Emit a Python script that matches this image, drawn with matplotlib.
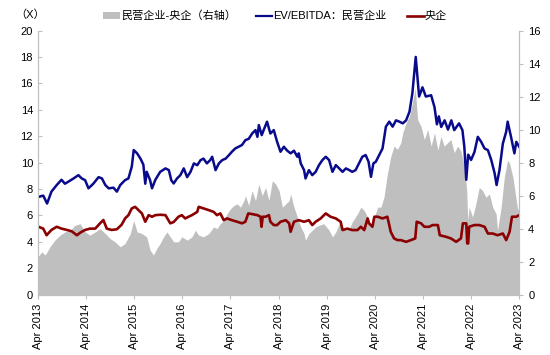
import matplotlib
matplotlib.use("Agg")
import matplotlib.pyplot as plt
from matplotlib.patches import Patch
from matplotlib.lines import Line2D

plt.rcParams['font.family'] = ['Liberation Sans', 'Noto Sans CJK SC']
plt.rcParams['axes.unicode_minus'] = False

# decimal-year positions (2013.25 = Apr 2013) and values
private_t = [2013.26, 2013.36, 2013.44, 2013.53, 2013.64, 2013.74, 2013.81, 2013.88, 2013.99,
             2014.09, 2014.16, 2014.23, 2014.30, 2014.40, 2014.51, 2014.58, 2014.65, 2014.72,
             2014.82, 2014.89, 2014.96, 2015.06, 2015.13, 2015.20, 2015.24, 2015.31, 2015.38,
             2015.44, 2015.48, 2015.51, 2015.58, 2015.62, 2015.69, 2015.79, 2015.90, 2015.97,
             2016.02, 2016.07, 2016.14, 2016.21, 2016.28, 2016.35, 2016.42, 2016.49, 2016.56,
             2016.63, 2016.69, 2016.76, 2016.83, 2016.87, 2016.94, 2017.01, 2017.08, 2017.15,
             2017.22, 2017.28, 2017.35, 2017.42, 2017.49, 2017.56, 2017.63, 2017.70, 2017.77,
             2017.81, 2017.84, 2017.90, 2017.94, 2018.01, 2018.08, 2018.15, 2018.22, 2018.29,
             2018.36, 2018.43, 2018.50, 2018.57, 2018.64, 2018.67, 2018.71, 2018.78, 2018.81,
             2018.88, 2018.95, 2019.02, 2019.09, 2019.16, 2019.23, 2019.30, 2019.37, 2019.44,
             2019.51, 2019.58, 2019.65, 2019.72, 2019.78, 2019.85, 2019.92, 2019.99, 2020.06,
             2020.12, 2020.17, 2020.22, 2020.27, 2020.34, 2020.41, 2020.48, 2020.55, 2020.62,
             2020.69, 2020.76, 2020.83, 2020.90, 2020.97, 2021.03, 2021.10, 2021.17, 2021.24,
             2021.31, 2021.42, 2021.49, 2021.54, 2021.58, 2021.63, 2021.70, 2021.77, 2021.84,
             2021.90, 2022.00, 2022.07, 2022.11, 2022.15, 2022.19, 2022.25, 2022.32, 2022.39,
             2022.46, 2022.53, 2022.60, 2022.67, 2022.74, 2022.78, 2022.84, 2022.91, 2022.98,
             2023.01, 2023.08, 2023.15, 2023.19, 2023.25]
private_v = [7.4, 7.5, 6.9, 7.8, 8.3, 8.7, 8.4, 8.55, 8.8,
             9.05, 8.8, 8.67, 8.05, 8.4, 8.9, 8.8, 8.3, 8.05,
             8.1, 7.8, 8.3, 8.67, 8.8, 9.7, 10.95, 10.7, 10.3,
             9.85, 8.4, 9.3, 8.67, 8.05, 8.7, 9.3, 9.56, 9.43,
             8.67, 8.42, 8.8, 9.05, 9.56, 8.9, 9.3, 9.94, 9.8,
             10.19, 10.3, 9.94, 10.19, 10.44, 9.43, 9.94, 10.19, 10.3,
             10.57, 10.82, 11.07, 11.2, 11.33, 11.7, 11.8, 12.2, 12.46,
             11.95, 12.84, 12.08, 12.46, 13.1, 12.2, 12.46, 11.57, 10.82,
             11.2, 10.9, 10.7, 10.9, 10.44, 10.7, 9.94, 9.43, 8.8,
             9.43, 9.05, 9.3, 9.81, 10.19, 10.44, 10.19, 9.3, 9.81,
             9.56, 9.3, 9.56, 9.43, 9.3, 9.43, 9.94, 10.44, 10.57,
             10.06, 8.92, 9.94, 10.06, 10.57, 11.07, 12.72, 13.1, 12.72,
             13.2, 13.1, 12.97, 13.2, 13.85, 15.24, 18.0, 15.0, 15.7,
             15.0, 15.1, 14.2, 12.9, 13.5, 12.7, 13.2, 12.5, 13.2,
             12.46, 12.97, 12.46, 11.2, 8.7, 10.6, 10.2, 10.8, 11.95,
             11.57, 11.07, 10.94, 10.19, 9.18, 8.3, 9.43, 11.44, 12.34,
             13.1, 11.95, 10.7, 11.57, 11.2]

soe_t = [2013.26, 2013.36, 2013.43, 2013.53, 2013.64, 2013.74, 2013.85, 2013.95, 2014.06,
         2014.13, 2014.23, 2014.33, 2014.44, 2014.54, 2014.61, 2014.68, 2014.78, 2014.89,
         2014.99, 2015.06, 2015.13, 2015.20, 2015.27, 2015.34, 2015.41, 2015.48, 2015.55,
         2015.62, 2015.69, 2015.79, 2015.90, 2016.00, 2016.07, 2016.17, 2016.24, 2016.31,
         2016.38, 2016.45, 2016.56, 2016.59, 2016.69, 2016.80, 2016.90, 2016.97, 2017.04,
         2017.11, 2017.18, 2017.28, 2017.39, 2017.49, 2017.56, 2017.62, 2017.70, 2017.81,
         2017.875, 2017.896, 2017.92, 2017.98, 2018.05, 2018.08, 2018.15, 2018.22, 2018.29,
         2018.40, 2018.47, 2018.50, 2018.57, 2018.67, 2018.78, 2018.88, 2018.95, 2019.02,
         2019.125, 2019.23, 2019.33, 2019.44, 2019.54, 2019.58, 2019.68, 2019.78, 2019.89,
         2019.96, 2020.03, 2020.10, 2020.13, 2020.20, 2020.24, 2020.31, 2020.41, 2020.51,
         2020.55, 2020.58, 2020.65, 2020.72, 2020.79, 2020.90, 2021.00, 2021.09, 2021.12,
         2021.21, 2021.28, 2021.38, 2021.45, 2021.56, 2021.60, 2021.73, 2021.83, 2021.94,
         2022.04, 2022.08, 2022.15, 2022.17, 2022.19, 2022.21, 2022.32, 2022.42, 2022.53,
         2022.60, 2022.70, 2022.80, 2022.91, 2022.98, 2023.05, 2023.10, 2023.19, 2023.25]
soe_v = [5.14, 5.0, 4.5, 4.9, 5.14, 5.0, 4.9, 4.8, 4.5,
         4.7, 4.9, 5.0, 5.0, 5.4, 5.65, 5.0, 4.9, 4.95,
         5.3, 5.77, 6.02, 6.53, 6.65, 6.4, 6.15, 5.52, 6.02,
         5.9, 6.02, 6.05, 6.02, 5.4, 5.5, 5.9, 6.02, 5.77,
         5.9, 6.02, 6.27, 6.65, 6.53, 6.4, 6.27, 6.02, 6.15,
         5.64, 5.77, 5.64, 5.52, 5.4, 5.52, 6.15, 6.1, 6.02,
         5.9, 5.14, 5.9, 5.9, 6.02, 5.52, 5.27, 5.27, 5.52,
         5.64, 5.4, 4.76, 5.52, 5.64, 5.52, 5.64, 5.27, 5.52,
         5.77, 6.15, 5.9, 5.77, 5.52, 4.89, 5.0, 4.89, 4.89,
         5.14, 4.89, 5.77, 5.4, 5.14, 5.9, 5.9, 5.77, 5.9,
         5.27, 4.76, 4.26, 4.13, 4.13, 4.0, 4.13, 4.26, 5.52,
         5.4, 5.14, 5.14, 5.27, 5.27, 4.5, 4.38, 4.26, 4.0,
         4.26, 5.4, 5.4, 3.88, 3.88, 5.14, 5.27, 5.27, 5.14,
         4.63, 4.63, 4.5, 4.63, 4.13, 4.76, 5.9, 5.9, 6.02]

spread_t = [2013.25, 2013.33, 2013.40, 2013.50, 2013.60, 2013.71, 2013.81, 2013.92, 2014.02,
            2014.125, 2014.23, 2014.33, 2014.44, 2014.54, 2014.65, 2014.75, 2014.85, 2014.96,
            2015.06, 2015.17, 2015.24, 2015.31, 2015.41, 2015.51, 2015.58, 2015.65, 2015.72,
            2015.79, 2015.86, 2015.93, 2016.00, 2016.07, 2016.17, 2016.24, 2016.35, 2016.45,
            2016.52, 2016.59, 2016.69, 2016.80, 2016.90, 2016.97, 2017.04, 2017.11, 2017.18,
            2017.25, 2017.32, 2017.39, 2017.46, 2017.53, 2017.56, 2017.63, 2017.70, 2017.77,
            2017.84, 2017.91, 2017.98, 2018.05, 2018.12, 2018.19, 2018.26, 2018.33, 2018.40,
            2018.47, 2018.50, 2018.57, 2018.64, 2018.71, 2018.78, 2018.81, 2018.88, 2018.95,
            2019.02, 2019.09, 2019.19, 2019.30, 2019.37, 2019.44, 2019.51, 2019.58, 2019.65,
            2019.72, 2019.78, 2019.89, 2019.96, 2020.03, 2020.10, 2020.17, 2020.24, 2020.31,
            2020.375, 2020.44, 2020.51, 2020.58, 2020.65, 2020.72, 2020.79, 2020.83, 2020.90,
            2020.97, 2021.03, 2021.09, 2021.14, 2021.21, 2021.28, 2021.35, 2021.42, 2021.49,
            2021.56, 2021.625, 2021.69, 2021.76, 2021.83, 2021.90, 2021.97, 2022.04, 2022.11,
            2022.16, 2022.18, 2022.21, 2022.28, 2022.35, 2022.42, 2022.49, 2022.56, 2022.63,
            2022.70, 2022.77, 2022.80, 2022.875, 2022.94, 2023.01, 2023.05, 2023.12, 2023.19,
            2023.22, 2023.25]
spread_v = [2.29, 2.59, 2.4, 2.9, 3.3, 3.6, 3.8, 3.9, 4.2,
            4.3, 3.8, 3.6, 3.8, 4.0, 3.7, 3.4, 3.2, 2.9,
            3.1, 3.7, 4.5, 3.8, 3.7, 3.5, 2.7, 2.4, 2.8,
            3.1, 3.5, 3.8, 3.5, 3.2, 3.2, 3.5, 3.3, 3.5,
            3.9, 3.6, 3.5, 3.7, 4.1, 4.0, 4.3, 4.5, 4.9,
            5.2, 5.4, 5.5, 5.3, 5.7, 6.0, 5.4, 6.3, 5.7,
            6.7, 6.0, 6.5, 5.7, 6.9, 6.7, 6.3, 5.3, 5.5,
            5.7, 6.1, 5.3, 4.7, 4.1, 3.7, 3.3, 3.7, 3.9,
            4.1, 4.2, 4.3, 3.9, 3.5, 3.8, 4.3, 4.1, 3.9,
            4.0, 4.4, 4.9, 5.3, 5.1, 4.7, 4.2, 4.7, 5.3,
            5.3, 5.9, 7.3, 8.35, 9.0, 8.8, 9.2, 9.8, 10.4,
            10.8, 11.6, 12.5, 10.6, 10.2, 9.4, 10.0, 9.0, 9.8,
            8.75, 9.6, 9.0, 9.2, 9.4, 8.6, 9.0, 8.7, 7.75,
            6.3, 4.5, 5.3, 4.7, 5.5, 6.5, 6.3, 5.9, 6.1,
            5.3, 4.9, 3.9, 5.3, 7.1, 8.15, 7.95, 7.1, 5.7,
            5.1, 5.5]

tick_years = list(range(2013, 2024))
tick_labels = [f"Apr {y}" for y in tick_years]

BLUE = '#0A0A8C'
RED = '#8B0000'
GRAY = '#BFBFBF'

fig = plt.figure(figsize=(5.5, 3.55), dpi=100)
ax = fig.add_axes([0.069, 0.170, 0.875, 0.744])
ax2 = ax.twinx()

# gray spread area on right axis, kept behind the lines
ax2.fill_between(spread_t, 0, spread_v, color=GRAY, lw=0)
ax.set_zorder(ax2.get_zorder() + 1)
ax.patch.set_visible(False)

ax.plot(private_t, private_v, color=BLUE, lw=1.8)
ax.plot(soe_t, soe_v, color=RED, lw=1.9)

ax.set_xlim(2013.25, 2023.25)
ax.set_ylim(0, 20)
ax2.set_ylim(0, 16)
ax.set_yticks(range(0, 21, 2))
ax2.set_yticks(range(0, 17, 2))
ax.set_xticks([y + 0.25 for y in tick_years])
ax.set_xticklabels(tick_labels, rotation=90)

for a in (ax, ax2):
    a.spines['top'].set_visible(False)
    for s in ('left', 'right', 'bottom'):
        a.spines[s].set_color(GRAY)
    a.tick_params(labelsize=8, colors=GRAY, labelcolor='black', length=3)
ax.tick_params(axis='y', direction='in')
ax2.tick_params(axis='y', direction='out')

fig.text(0.055, 0.958, '（X）', fontsize=8, ha='center', va='center')

handles = [
    Patch(facecolor=GRAY, label='民营企业-央企（右轴）'),
    Line2D([0], [0], color=BLUE, lw=1.6, label='EV/EBITDA：民营企业'),
    Line2D([0], [0], color=RED, lw=1.9, label='央企'),
]
fig.legend(handles=handles, loc='center', bbox_to_anchor=(0.5, 0.955), ncol=3,
           frameon=False, fontsize=8, handlelength=1.5, handleheight=0.5,
           handletextpad=0.1, columnspacing=1.8)

plt.savefig('out.png', dpi=100)
